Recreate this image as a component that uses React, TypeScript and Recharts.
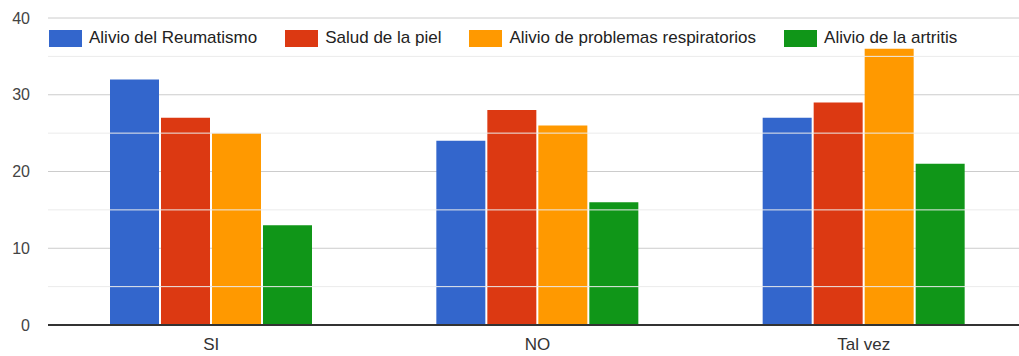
import { BarChart, Bar, XAxis, YAxis, CartesianGrid, ReferenceLine } from 'recharts'

const categories = ['SI', 'NO', 'Tal vez']
const reumatismo = [32, 24, 27]
const piel = [27, 28, 29]
const respiratorios = [25, 26, 36]
const artritis = [13, 16, 21]
const yTicks = [0, 10, 20, 30, 40]
const minorTicks = [5, 15, 25, 35]

const series = [
    { key: 'reumatismo', name: 'Alivio del Reumatismo', color: '#3366cc' },
    { key: 'piel', name: 'Salud de la piel', color: '#dc3912' },
    { key: 'respiratorios', name: 'Alivio de problemas respiratorios', color: '#ff9900' },
    { key: 'artritis', name: 'Alivio de la artritis', color: '#109618' },
]

const data = categories.map((name, i) => ({
    name,
    reumatismo: reumatismo[i],
    piel: piel[i],
    respiratorios: respiratorios[i],
    artritis: artritis[i],
}))

const font = 'Arial, "Liberation Sans", sans-serif'

function ChartLegend() {
    return (
        <div
            style={{
                position: 'absolute',
                left: 49,
                top: 28,
                display: 'flex',
                alignItems: 'center',
                fontFamily: font,
                fontSize: 17,
                color: '#222',
            }}
        >
            {series.map((s) => (
                <div key={s.key} style={{ display: 'flex', alignItems: 'center', marginRight: 28 }}>
                    <span style={{ width: 33, height: 17, background: s.color, display: 'inline-block', marginRight: 7 }} />
                    <span>{s.name}</span>
                </div>
            ))}
        </div>
    )
}

export default function App() {
    return (
        <div style={{ position: 'fixed', left: 0, top: 0, width: 1019, height: 356, background: '#fff', overflow: 'hidden' }}>
            <BarChart
                width={1027}
                height={356}
                data={data}
                margin={{ top: 18, right: 0, left: 0, bottom: 0 }}
                barCategoryGap="19%"
                barGap={2}
            >
                <CartesianGrid vertical={false} stroke="#cccccc" />
                {minorTicks.map((v) => (
                    <ReferenceLine key={v} y={v} stroke="#ebebeb" />
                ))}
                <XAxis
                    dataKey="name"
                    height={31}
                    tickSize={0}
                    tickMargin={13}
                    axisLine={false}
                    tick={{ fontSize: 17, fill: '#333', fontFamily: font }}
                />
                <YAxis
                    width={48}
                    domain={[0, 40]}
                    ticks={yTicks}
                    tickSize={0}
                    tickMargin={18}
                    axisLine={false}
                    tick={{ fontSize: 16, fill: '#444', fontFamily: font }}
                />
                {series.map((s) => (
                    <Bar key={s.key} dataKey={s.key} name={s.name} fill={s.color} isAnimationActive={false} />
                ))}
                <ReferenceLine y={0} stroke="#333" strokeWidth={2} />
            </BarChart>
            <ChartLegend />
        </div>
    )
}
